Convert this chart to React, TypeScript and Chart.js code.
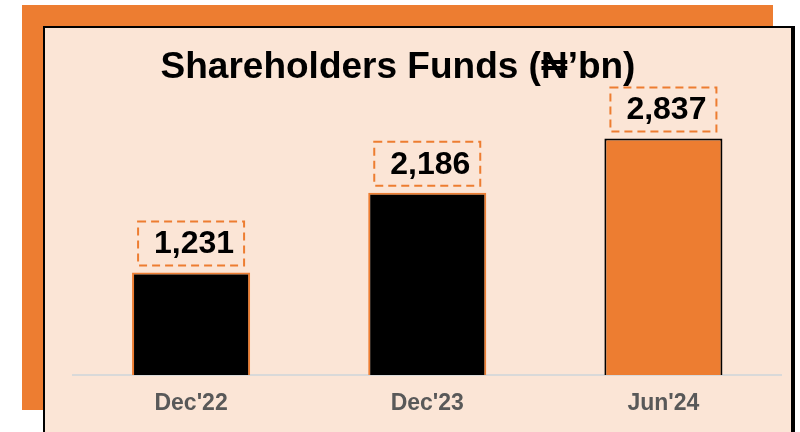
import React, { useEffect, useRef } from "react";
import { Chart, registerables } from "chart.js";

Chart.register(...registerables);

const categories = ["Dec'22", "Dec'23", "Jun'24"];
const shareholdersFunds = [1231, 2186, 2837];
const titleText = "Shareholders Funds (₦’bn)";
const yAxisMax = 3500;

const ORANGE = "#ED7D31";
const PEACH = "#FBE5D6";
const FONT = "'Liberation Sans', Arial, Helvetica, sans-serif";

const backgroundPlugin = {
  id: "bgPanels",
  beforeDraw(chart: any) {
    const ctx = chart.ctx;
    ctx.save();
    ctx.fillStyle = "#ffffff";
    ctx.fillRect(0, 0, chart.width, chart.height);
    ctx.fillStyle = ORANGE;
    ctx.fillRect(22, 5, 751, 405);
    ctx.fillStyle = PEACH;
    ctx.fillRect(44, 27, 748, 420);
    ctx.fillStyle = "#000000";
    ctx.fillRect(43, 26, 752, 2);
    ctx.fillRect(43, 26, 2, 420);
    ctx.fillRect(791, 26, 4, 420);
    ctx.restore();
  },
};

const titlePlugin = {
  id: "customTitle",
  afterDraw(chart: any) {
    const ctx = chart.ctx;
    ctx.save();
    ctx.font = `bold 37px ${FONT}`;
    ctx.fillStyle = "#000000";
    ctx.textAlign = "center";
    ctx.textBaseline = "alphabetic";
    ctx.fillText(titleText, 398, 78);
    ctx.restore();
  },
};

const valueBoxPlugin = {
  id: "valueBoxes",
  afterDatasetsDraw(chart: any) {
    const ctx = chart.ctx;
    const meta = chart.getDatasetMeta(0);
    const data = chart.data.datasets[0].data as number[];
    ctx.save();
    meta.data.forEach((bar: any, i: number) => {
      const w = 106;
      const h = 44;
      const bottom = bar.y - 7;
      const top = bottom - h;
      ctx.setLineDash([8, 5]);
      ctx.lineWidth = 2;
      ctx.strokeStyle = ORANGE;
      ctx.strokeRect(bar.x - w / 2, top, w, h);
      ctx.setLineDash([]);
      ctx.font = `bold 32px ${FONT}`;
      ctx.fillStyle = "#000000";
      ctx.textAlign = "center";
      ctx.textBaseline = "middle";
      ctx.fillText(data[i].toLocaleString("en-US"), bar.x + 3, top + h / 2 + 1);
    });
    ctx.restore();
  },
};

export default function App() {
  const canvasRef = useRef<HTMLCanvasElement | null>(null);

  useEffect(() => {
    if (!canvasRef.current) return;
    const chart = new Chart(canvasRef.current, {
      type: "bar",
      data: {
        labels: categories,
        datasets: [
          {
            data: shareholdersFunds,
            backgroundColor: ["#000000", "#000000", ORANGE],
            borderColor: [ORANGE, ORANGE, "#000000"],
            borderWidth: 2,
            barPercentage: 0.5,
            categoryPercentage: 1,
          },
        ],
      },
      options: {
        responsive: false,
        animation: false,
        layout: { padding: { left: 73, right: 18.5, top: 83.33, bottom: 0 } },
        plugins: {
          legend: { display: false },
          title: { display: false },
          tooltip: { enabled: false },
        },
        scales: {
          x: {
            grid: { display: false, drawTicks: false },
            border: { display: true, color: "#D9D9D9", width: 2 },
            ticks: {
              color: "#595959",
              padding: 15,
              font: { family: FONT, size: 23, weight: "bold" },
            },
            afterFit(scale: any) {
              scale.height = 57;
            },
          },
          y: {
            display: false,
            min: 0,
            max: yAxisMax,
          },
        },
      },
      plugins: [backgroundPlugin, valueBoxPlugin, titlePlugin],
    });
    return () => chart.destroy();
  }, []);

  return (
    <div style={{ position: "fixed", left: 0, top: 0, width: 800, height: 432 }}>
      <canvas ref={canvasRef} width={800} height={432} style={{ display: "block" }} />
    </div>
  );
}
